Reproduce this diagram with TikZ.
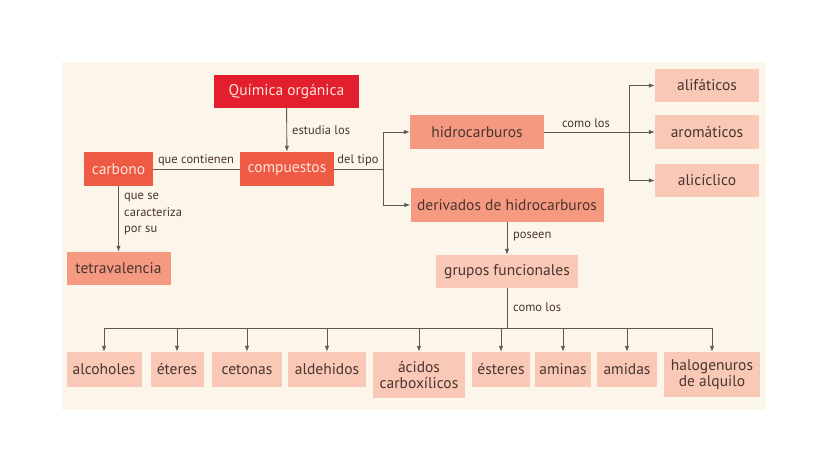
\documentclass[tikz,border=0pt]{standalone}
\usepackage{fontspec}
\setmainfont{PT Sans}
\usetikzlibrary{arrows.meta}
\definecolor{bgc}{HTML}{FCF5EA}
\definecolor{redc}{HTML}{E31E2D}
\definecolor{orc}{HTML}{EE5A44}
\definecolor{salc}{HTML}{F59A80}
\definecolor{ltc}{HTML}{FAC8B6}
\definecolor{lnc}{HTML}{5E5954}
\definecolor{txc}{HTML}{4A3530}
\definecolor{wtc}{HTML}{FDE3DA}
\tikzset{
  box/.style={rectangle, inner sep=0pt, align=center, font=\fontsize{15.5}{16.5}\selectfont},
  redbox/.style={box, fill=redc, text=wtc},
  orbox/.style={box, fill=orc, text=wtc},
  salbox/.style={box, fill=salc, text=txc},
  ltbox/.style={box, fill=ltc, text=txc},
  lbl/.style={font=\fontsize{12.5}{14}\selectfont, text=txc, inner sep=0pt, align=left},
  conn/.style={draw=lnc, line width=0.9pt},
  arr/.style={conn, -{Latex[length=6pt,width=4.5pt]}},
}
\begin{document}
\begin{tikzpicture}[x=1pt,y=-1pt]
\useasboundingbox (0,0) rectangle (828,466);
\fill[white] (0,0) rectangle (828,466);
\fill[bgc] (62,62) rectangle (766,410);
% nodes
\node[redbox, minimum width=145, minimum height=33] (quim) at (286.5,91.5) {Química orgánica};
\node[orbox, minimum width=69, minimum height=34] (carb) at (118.5,169) {carbono};
\node[orbox, minimum width=94, minimum height=34] (comp) at (287,169) {compuestos};
\node[salbox, minimum width=104, minimum height=33] (tetra) at (118.5,268.5) {tetravalencia};
\node[salbox, minimum width=134, minimum height=34] (hidro) at (477,132) {hidrocarburos};
\node[salbox, minimum width=193, minimum height=34] (deriv) at (507,205) {derivados de hidrocarburos};
\node[ltbox, minimum width=104, minimum height=33] (alif) at (707,85.5) {alifáticos};
\node[ltbox, minimum width=104, minimum height=34] (arom) at (707,132) {aromáticos};
\node[ltbox, minimum width=104, minimum height=33] (alic) at (707,180.5) {alicíclico};
\node[ltbox, minimum width=142, minimum height=33] (grup) at (507,271.5) {grupos funcionales};
\node[ltbox, minimum width=75, minimum height=35] (b1) at (104,369.5) {alcoholes};
\node[ltbox, minimum width=53, minimum height=35] (b2) at (177,369.5) {éteres};
\node[ltbox, minimum width=70, minimum height=35] (b3) at (247,369.5) {cetonas};
\node[ltbox, minimum width=78, minimum height=35] (b4) at (327,369.5) {aldehidos};
\node[ltbox, minimum width=92, minimum height=46] (b5) at (419,375) {ácidos\\carboxílicos};
\node[ltbox, minimum width=58, minimum height=35] (b6) at (501,369.5) {ésteres};
\node[ltbox, minimum width=56, minimum height=35] (b7) at (563,369.5) {aminas};
\node[ltbox, minimum width=60, minimum height=35] (b8) at (627,369.5) {amidas};
\node[ltbox, minimum width=96, minimum height=45] (b9) at (712,374.5) {halogenuros\\de alquilo};
% junctions
\coordinate (j1) at (383,169);
\coordinate (j2) at (629,132);
\coordinate (j3) at (507,328);
% connectors
\draw[arr] (quim) -- (comp);
\draw[conn] (carb) -- (comp);
\draw[arr] (carb) -- (tetra);
\draw[conn] (comp.east) -- (j1);
\draw[arr] (j1) |- (hidro.west);
\draw[arr] (j1) |- (deriv.west);
\draw[conn] (hidro.east) -- (j2);
\draw[arr] (j2) |- (alif.west);
\draw[arr] (j2) -- (arom.west);
\draw[arr] (j2) |- (alic.west);
\draw[arr] (deriv) -- (grup);
\draw[conn] (grup) -- (j3);
\draw[conn] (104,328) -- (712,328);
\foreach \b in {b1,b2,b3,b4,b5,b6,b7,b8,b9}{
  \draw[arr] (\b.north |- j3) -- (\b.north);
}
% labels
\node[lbl, anchor=west] (l1) at (292,130) {estudia los};
\node[lbl] (l2) at (196,160) {que contienen};
\node[lbl] (l3) at (358,160) {del tipo};
\node[lbl, anchor=north west, font=\fontsize{12.5}{16.5}\selectfont] (l4) at (124,193) {que se\\caracteriza\\por su};
\node[lbl] (l5) at (586,123) {como los};
\node[lbl, anchor=west] (l6) at (513,237) {poseen};
\node[lbl, anchor=west] (l7) at (513,307) {como los};
\end{tikzpicture}
\end{document}
